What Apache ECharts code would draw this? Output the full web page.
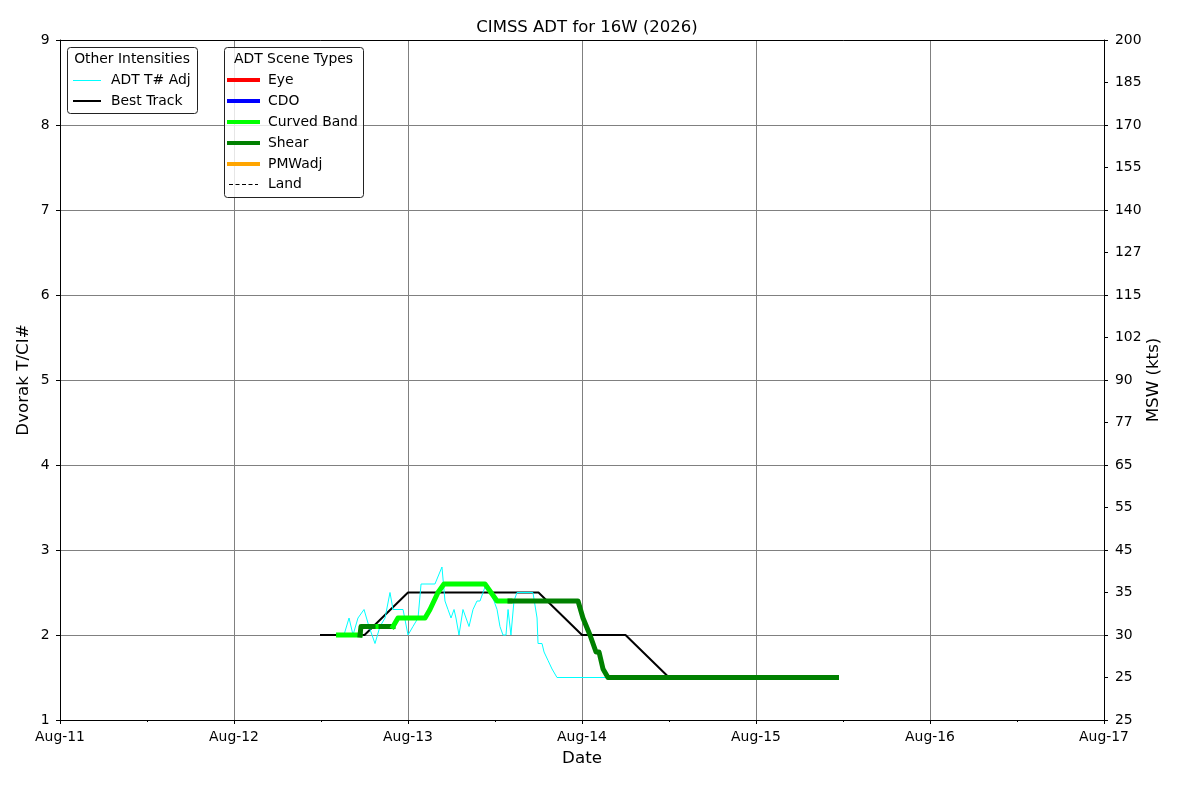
<!DOCTYPE html>
<html><head><meta charset="utf-8">
<script src="https://cdn.jsdelivr.net/npm/echarts@6/dist/echarts.min.js"></script>
<style>html,body{margin:0;padding:0;background:#fff}#c{width:1200px;height:800px}</style>
</head><body><div id="c"></div>
<script>
const FONT = 'DejaVu Sans';
const titleText = 'CIMSS ADT for 16W (2026)';
const xRange = ['2026-08-11 00:00', '2026-08-17 00:00'];
const monthNames = ['Jan','Feb','Mar','Apr','May','Jun','Jul','Aug','Sep','Oct','Nov','Dec'];
const rightTickLabels = ['25','25','30','35','45','55','65','77','90','102','115','127','140','155','170','185','200'];

const bestTrackTimes = ['2026-08-12 12:00','2026-08-12 18:00','2026-08-13 00:00','2026-08-13 06:00','2026-08-13 12:00','2026-08-13 18:00','2026-08-14 00:00','2026-08-14 06:00','2026-08-14 12:00','2026-08-14 18:00','2026-08-15 00:00','2026-08-15 06:00'];
const bestTrackValues = [2.0,2.0,2.5,2.5,2.5,2.5,2.0,2.0,1.5,1.5,1.5,1.5];

const adjTimes = ['2026-08-12 14:12','2026-08-12 15:10','2026-08-12 15:52','2026-08-12 16:25','2026-08-12 17:06','2026-08-12 17:56','2026-08-12 18:37','2026-08-12 19:27','2026-08-12 20:08','2026-08-12 20:50','2026-08-12 21:31','2026-08-12 21:56','2026-08-12 23:19','2026-08-13 00:00','2026-08-13 00:41','2026-08-13 01:23','2026-08-13 01:48','2026-08-13 03:43','2026-08-13 04:41','2026-08-13 05:06','2026-08-13 05:31','2026-08-13 05:56','2026-08-13 06:21','2026-08-13 06:37','2026-08-13 07:02','2026-08-13 07:35','2026-08-13 08:00','2026-08-13 08:25','2026-08-13 08:58','2026-08-13 09:31','2026-08-13 09:56','2026-08-13 10:21','2026-08-13 10:46','2026-08-13 11:19','2026-08-13 11:52','2026-08-13 12:17','2026-08-13 12:41','2026-08-13 13:06','2026-08-13 13:31','2026-08-13 13:48','2026-08-13 14:12','2026-08-13 14:37','2026-08-13 15:02','2026-08-13 17:14','2026-08-13 17:48','2026-08-13 17:56','2026-08-13 18:29','2026-08-13 18:46','2026-08-13 19:19','2026-08-13 19:52','2026-08-13 20:33','2026-08-14 03:35'];
const adjValues = [2.0,2.0,2.2,2.0,2.2,2.3,2.1,1.9,2.1,2.2,2.5,2.3,2.3,2.0,2.1,2.2,2.6,2.6,2.8,2.4,2.3,2.2,2.3,2.2,2.0,2.3,2.2,2.1,2.3,2.4,2.4,2.5,2.6,2.5,2.4,2.3,2.1,2.0,2.0,2.3,2.0,2.4,2.5,2.5,2.2,1.9,1.9,1.8,1.7,1.6,1.5,1.5];

const ciTimes = ['2026-08-12 14:25','2026-08-12 17:23','2026-08-12 17:31','2026-08-12 19:52','2026-08-12 20:17','2026-08-12 20:41','2026-08-12 21:56','2026-08-12 22:37','2026-08-13 02:21','2026-08-13 03:02','2026-08-13 03:35','2026-08-13 04:08','2026-08-13 04:58','2026-08-13 10:37','2026-08-13 11:27','2026-08-13 12:17','2026-08-13 14:04','2026-08-13 14:21','2026-08-13 23:27','2026-08-14 00:08','2026-08-14 01:06','2026-08-14 01:56','2026-08-14 02:21','2026-08-14 02:54','2026-08-14 03:35','2026-08-15 11:06'];
const ciValues = [2.0,2.0,2.1,2.1,2.1,2.1,2.1,2.2,2.2,2.3,2.4,2.5,2.6,2.6,2.5,2.4,2.4,2.4,2.4,2.2,2.0,1.8,1.8,1.6,1.5,1.5];
const ciScene = ['Curved Band','Curved Band','Shear','Shear','Curved Band','Shear','Shear','Curved Band','Curved Band','Curved Band','Curved Band','Curved Band','Curved Band','Curved Band','Curved Band','Curved Band','Curved Band','Shear','Shear','Shear','Shear','Shear','Shear','Shear','Shear','Shear'];

const sceneNames = ['Eye','CDO','Curved Band','Shear','PMWadj'];
const sceneColors = ['#ff0000','#0000ff','#00ff00','#008000','#ffa500'];

function toMs(s){
  const [d,t] = s.split(' ');
  const [Y,M,D] = d.split('-').map(Number);
  const [h,m] = t.split(':').map(Number);
  return Date.UTC(Y, M-1, D, h, m);
}
function colorOf(name){ return sceneColors[sceneNames.indexOf(name)]; }

const series = [];
series.push({
  type:'line', name:'Best Track', xAxisIndex:0, yAxisIndex:0,
  data: bestTrackTimes.map((t,i)=>[toMs(t), bestTrackValues[i]]),
  symbol:'none', showSymbol:false, z:2, animation:false,
  lineStyle:{color:'#000000', width:2, cap:'square', join:'round'}
});
series.push({
  type:'line', name:'ADT T# Adj', xAxisIndex:0, yAxisIndex:0,
  data: adjTimes.map((t,i)=>[toMs(t), adjValues[i]]),
  symbol:'none', showSymbol:false, z:3, animation:false,
  lineStyle:{color:'#00ffff', width:1, join:'round'}
});
let run = null; const runs = [];
for (let i=1;i<ciTimes.length;i++){
  const type = ciScene[i];
  if (!run || run.type !== type){ run = {type, pts:[[toMs(ciTimes[i-1]), ciValues[i-1]]]}; runs.push(run); }
  run.pts.push([toMs(ciTimes[i]), ciValues[i]]);
}
runs.forEach(r=>{
  series.push({
    type:'line', name:r.type, xAxisIndex:0, yAxisIndex:0, data:r.pts,
    symbol:'none', showSymbol:false, z:4, animation:false,
    lineStyle:{color:colorOf(r.type), width:5, cap:'square', join:'round'}
  });
});

function gText(x,y,text,align){
  return {type:'text', x, y, z:101, style:{text, fontFamily:FONT, fontSize:13.9, fill:'#000', align:align||'left', verticalAlign:'middle', textAlign:align||'left', textVerticalAlign:'middle'}};
}
function gLine(x1,x2,y,color,w,dash){
  return {type:'line', z:101, shape:{x1,y1:y,x2,y2:y}, style:{stroke:color, lineWidth:w, lineDash:dash||null}};
}
const graphic = [
  {type:'rect', z:100, shape:{x:67.5,y:47.5,width:130,height:66,r:3}, style:{fill:'rgba(255,255,255,0.8)', stroke:'#222', lineWidth:1}},
  gText(132,59.5,'Other Intensities','center'),
  gLine(73,101,80.5,'#00ffff',1),
  gText(111,80,'ADT T# Adj'),
  gLine(73,101,101,'#000000',2),
  gText(111,101,'Best Track'),
  {type:'rect', z:100, shape:{x:224.5,y:47.5,width:139,height:150,r:3}, style:{fill:'rgba(255,255,255,0.8)', stroke:'#222', lineWidth:1}},
  gText(293.5,59,'ADT Scene Types','center')
];
sceneNames.forEach((n,i)=>{
  const y = 80 + i*21;
  graphic.push(gLine(227,260,y,sceneColors[i],4));
  graphic.push(gText(268,y,n));
});
graphic.push(gLine(229,258,184.5,'#000000',1,[4,2.5]));
graphic.push(gText(268,184.5,'Land'));

const xMin = toMs(xRange[0]), xMax = toMs(xRange[1]);
const option = {
  animation:false,
  backgroundColor:'#ffffff',
  title:{text:titleText, left:582, top:14, textAlign:'center', textStyle:{fontFamily:FONT, fontSize:16.5, fontWeight:'normal', color:'#000'}},
  grid:{left:60, right:96, top:40, bottom:80, containLabel:false, outerBoundsMode:'none'},
  xAxis:[{
    type:'value', min:xMin, max:xMax, interval:86400000, position:'bottom',
    name:'Date', nameLocation:'middle', nameGap:30, nameMoveOverlap:false,
    nameTextStyle:{fontFamily:FONT, fontSize:16.7, color:'#000'},
    axisLine:{show:true, onZero:false, lineStyle:{color:'#000', width:1}},
    axisTick:{show:true, length:4, lineStyle:{color:'#000'}},
    minorTick:{show:true, splitNumber:2, length:2, lineStyle:{color:'#000'}},
    axisLabel:{show:true, margin:10, showMinLabel:true, showMaxLabel:true, hideOverlap:false, fontFamily:FONT, fontSize:13.9, color:'#000',
      formatter:v=>{const d=new Date(v); return monthNames[d.getUTCMonth()]+'-'+String(d.getUTCDate()).padStart(2,'0');}},
    splitLine:{show:true, showMinLine:false, showMaxLine:false, lineStyle:{color:'#808080', width:1}}
  },{
    type:'value', min:xMin, max:xMax, interval:86400000, position:'top',
    axisLine:{show:true, onZero:false, lineStyle:{color:'#000', width:1}},
    axisTick:{show:false}, axisLabel:{show:false}, splitLine:{show:false}
  }],
  yAxis:[{
    type:'value', min:1, max:9, interval:1, position:'left',
    name:'Dvorak T/CI#', nameLocation:'middle', nameGap:28, nameRotate:90, nameMoveOverlap:false,
    nameTextStyle:{fontFamily:FONT, fontSize:16.7, color:'#000'},
    axisLine:{show:true, onZero:false, lineStyle:{color:'#000', width:1}},
    axisTick:{show:true, length:4, lineStyle:{color:'#000'}},
    axisLabel:{show:true, margin:10.5, showMinLabel:true, showMaxLabel:true, fontFamily:FONT, fontSize:13.9, color:'#000'},
    splitLine:{show:true, showMinLine:false, showMaxLine:false, lineStyle:{color:'#808080', width:1}}
  },{
    type:'value', min:1, max:9, interval:0.5, position:'right',
    name:'MSW (kts)', nameLocation:'middle', nameGap:41, nameRotate:90, nameMoveOverlap:false,
    nameTextStyle:{fontFamily:FONT, fontSize:16.7, color:'#000'},
    axisLine:{show:true, onZero:false, lineStyle:{color:'#000', width:1}},
    axisTick:{show:true, length:4, lineStyle:{color:'#000'}},
    axisLabel:{show:true, margin:11, showMinLabel:true, showMaxLabel:true, hideOverlap:false, fontFamily:FONT, fontSize:13.9, color:'#000',
      formatter:v=>rightTickLabels[Math.round((v-1)*2)]},
    splitLine:{show:false}
  }],
  series,
  graphic
};
const chart = echarts.init(document.getElementById('c'), null, {renderer:'canvas'});
chart.setOption(option);
</script>
</body></html>
